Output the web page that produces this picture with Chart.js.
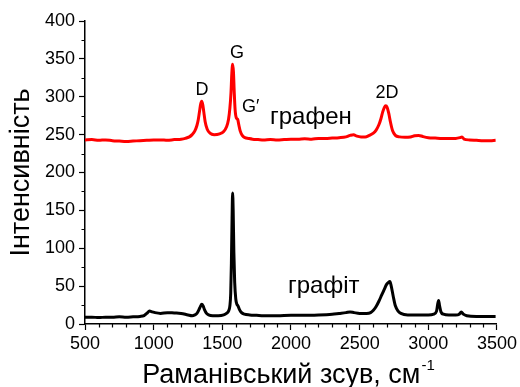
<!DOCTYPE html>
<html>
<head>
<meta charset="utf-8">
<script src="https://cdn.jsdelivr.net/npm/chart.js@4.4.0/dist/chart.umd.min.js"></script>
<style>
  html, body { margin: 0; padding: 0; background: #fff; }
  #wrap { width: 520px; height: 387px; }
</style>
</head>
<body>
<div id="wrap"><canvas id="myChart" width="520" height="387"></canvas></div>
<script>
// Graphene spectrum (red)
var grapheneShift = [
  500, 550, 600, 650, 700, 750, 800, 850, 900, 950,
  1000, 1050, 1100, 1150, 1200, 1230, 1260, 1280, 1300, 1315,
  1325, 1335, 1342, 1350, 1358, 1365, 1375, 1390, 1410, 1440,
  1480, 1510, 1530, 1545, 1555, 1563, 1569, 1575, 1581, 1587,
  1593, 1602, 1612, 1620, 1630, 1645, 1665, 1690, 1720, 1760,
  1800, 1850, 1900, 1950, 2000, 2050, 2100, 2150, 2200, 2250,
  2300, 2350, 2400, 2430, 2455, 2480, 2510, 2540, 2570, 2600,
  2620, 2640, 2655, 2668, 2680, 2690, 2700, 2712, 2725, 2740,
  2760, 2790, 2830, 2870, 2900, 2930, 2960, 3000, 3050, 3100,
  3150, 3200, 3230, 3245, 3260, 3300, 3350, 3400, 3450, 3490
];
var grapheneIntensity = [
  243, 243.5, 242.5, 243, 242, 241.5, 241, 241.5, 242, 242.5,
  243, 243, 242.5, 243.5, 244, 245, 247, 250, 255, 262,
  270, 282, 290, 294, 289, 280, 267, 257, 252, 250,
  251, 254, 260, 270, 285, 305, 330, 343, 333, 305,
  283, 272, 270, 263, 255, 249, 246, 245, 244, 243.5,
  243, 243.5, 243, 243.5, 244, 244, 244.5, 244, 245, 245,
  245.5, 246, 247, 249, 250, 248, 247, 247, 249, 252,
  256, 263, 271, 280, 286, 288, 286, 278, 266, 255,
  249, 247, 246.5, 247, 248.5, 249, 247.5, 246, 245.5, 245,
  245, 245, 246, 247, 244, 243, 242.5, 242, 242, 242.5
];

// Graphite spectrum (black)
var graphiteShift = [
  500, 550, 600, 650, 700, 750, 800, 850, 900, 930,
  950, 970, 990, 1010, 1050, 1100, 1150, 1200, 1250, 1280,
  1300, 1315, 1330, 1340, 1350, 1360, 1370, 1385, 1400, 1430,
  1470, 1510, 1530, 1545, 1555, 1561, 1566, 1571, 1575, 1579,
  1584, 1590, 1598, 1606, 1614, 1625, 1640, 1660, 1700, 1750,
  1800, 1900, 2000, 2100, 2200, 2300, 2350, 2400, 2430, 2460,
  2500, 2550, 2580, 2600, 2620, 2640, 2660, 2680, 2695, 2710,
  2720, 2730, 2745, 2760, 2780, 2800, 2850, 2900, 2950, 3000,
  3040, 3060, 3068, 3075, 3082, 3092, 3110, 3150, 3200, 3225,
  3240, 3255, 3280, 3350, 3400, 3450, 3490
];
var graphiteIntensity = [
  9, 9, 8.5, 9, 9, 9.5, 9, 9.5, 10, 11,
  14, 17, 16, 15, 14, 15, 14.5, 14, 12, 11,
  12, 14, 19, 23, 26, 24, 19, 14, 12, 11,
  11, 12, 14, 17, 24, 40, 80, 140, 173, 150,
  95, 55, 33, 26, 24, 19, 15, 13, 12, 11.5,
  11, 11, 11.5, 11.5, 12, 13, 14, 15, 16, 15,
  14, 14, 15, 18, 23, 30, 38, 46, 52, 55,
  56, 50, 36, 24, 17, 14, 12, 12, 12, 12,
  13, 17, 26, 31, 24, 16, 13, 12, 12, 13,
  16, 13, 11, 10, 10, 10, 10
];

// peak labels: text, x, y (data units)
var peakLabels = ['D', 'G', 'G\u2032', '2D'];
var peakLabelX = [1352, 1607, 1643, 2699];
var peakLabelY = [309, 358, 287, 305];

var sampleNames = ['графен', 'графіт'];
var sampleNameX = [1847, 1978];
var sampleNameY = [264, 41];

var xTitle = 'Раманівський зсув, см';
var xTitleSup = '-1';
var yTitle = 'Інтенсивність';

var FONT = "'Liberation Sans', Arial, sans-serif";

function toPoints(xs, ys) {
    var pts = [];
    for (var i = 0; i < xs.length; i++) pts.push({ x: xs[i], y: ys[i] });
    return pts;
}

// minor ticks, labels and x title with superscript
var extras = {
    id: 'extras',
    afterDraw: function (chart) {
        var ctx = chart.ctx, xs = chart.scales.x, ys = chart.scales.y;
        var area = chart.chartArea;
        ctx.save();
        ctx.strokeStyle = '#000';
        ctx.lineWidth = 1.2;
        ctx.beginPath();
        for (var v = xs.min; v <= xs.max; v += 100) {
            if (v % 500 === 0) continue;
            var px = Math.round(xs.getPixelForValue(v)) + 0.5;
            ctx.moveTo(px, area.bottom);
            ctx.lineTo(px, area.bottom + 3.5);
        }
        for (var w = ys.min; w <= ys.max; w += 25) {
            if (w % 50 === 0) continue;
            var py = Math.round(ys.getPixelForValue(w)) + 0.5;
            ctx.moveTo(area.left, py);
            ctx.lineTo(area.left - 3.5, py);
        }
        ctx.stroke();

        ctx.fillStyle = '#000';
        ctx.font = '18px ' + FONT;
        ctx.textBaseline = 'middle';
        for (var i = 0; i < peakLabels.length; i++) {
            ctx.textAlign = (i === 2) ? 'left' : 'center';
            ctx.fillText(peakLabels[i], xs.getPixelForValue(peakLabelX[i]), ys.getPixelForValue(peakLabelY[i]));
        }
        ctx.font = '24px ' + FONT;
        ctx.textAlign = 'left';
        ctx.textBaseline = 'alphabetic';
        for (var j = 0; j < sampleNames.length; j++) {
            ctx.fillText(sampleNames[j], xs.getPixelForValue(sampleNameX[j]), ys.getPixelForValue(sampleNameY[j]));
        }

        // x axis title with superscript
        ctx.font = '27px ' + FONT;
        var mainW = ctx.measureText(xTitle).width;
        ctx.font = '15px ' + FONT;
        var supW = ctx.measureText(xTitleSup).width;
        var cx = (area.left + area.right) / 2;
        var startX = cx - (mainW + supW) / 2 - 3;
        ctx.font = '27px ' + FONT;
        ctx.fillText(xTitle, startX, 383);
        ctx.font = '15px ' + FONT;
        ctx.fillText(xTitleSup, startX + mainW + 1, 370);
        ctx.restore();
    }
};

var ctx = document.getElementById('myChart').getContext('2d');
new Chart(ctx, {
    type: 'scatter',
    data: {
        datasets: [{
            label: 'графен',
            data: toPoints(grapheneShift, grapheneIntensity),
            showLine: true,
            borderColor: '#ff0000',
            borderWidth: 3,
            pointRadius: 0,
            cubicInterpolationMode: 'monotone'
        }, {
            label: 'графіт',
            data: toPoints(graphiteShift, graphiteIntensity),
            showLine: true,
            borderColor: '#000000',
            borderWidth: 3,
            pointRadius: 0,
            cubicInterpolationMode: 'monotone'
        }]
    },
    options: {
        responsive: false,
        animation: false,
        layout: { padding: { top: 21, right: 23, left: 0, bottom: 0 } },
        plugins: { legend: { display: false }, tooltip: { enabled: false } },
        scales: {
            x: {
                type: 'linear',
                min: 500, max: 3500,
                afterFit: function (s) { s.height = 63; },
                border: { display: true, color: '#000', width: 1.5 },
                grid: { drawOnChartArea: false, drawTicks: true, tickLength: 6, tickColor: '#000', tickWidth: 1.2 },
                ticks: {
                    stepSize: 500, color: '#000', padding: 3, maxRotation: 0,
                    font: { family: FONT, size: 18 },
                    callback: function (value) { return String(value); }
                }
            },
            y: {
                min: 0, max: 400,
                afterFit: function (s) { s.width = 85; },
                border: { display: true, color: '#000', width: 1.5 },
                grid: { drawOnChartArea: false, drawTicks: true, tickLength: 6, tickColor: '#000', tickWidth: 1.2 },
                ticks: { stepSize: 50, color: '#000', padding: 4, font: { family: FONT, size: 18 } },
                title: { display: true, text: yTitle, color: '#000', padding: { top: 5, bottom: 0 }, font: { family: FONT, size: 27 } }
            }
        }
    },
    plugins: [extras]
});
</script>
</body>
</html>
